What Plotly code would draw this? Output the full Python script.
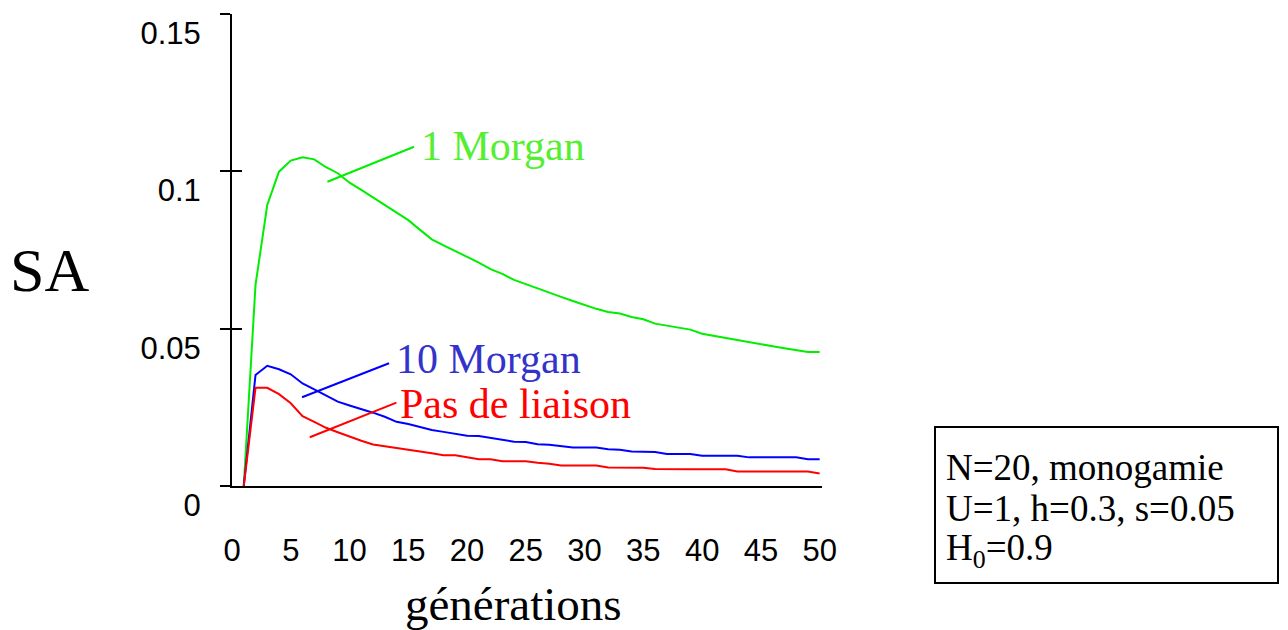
import plotly.graph_objects as go

generations = list(range(1, 51))

sa_1_morgan = [0.0, 0.0639, 0.0893, 0.0999, 0.1034, 0.1045, 0.1038, 0.1013, 0.0994, 0.0964,
               0.0941, 0.0917, 0.0894, 0.0869, 0.0845, 0.0814, 0.0784, 0.0765, 0.0747, 0.0729,
               0.0710, 0.0689, 0.0674, 0.0655, 0.0641, 0.0627, 0.0613, 0.0601, 0.0588, 0.0575,
               0.0563, 0.0553, 0.0548, 0.0537, 0.0530, 0.0516, 0.0509, 0.0504, 0.0497, 0.0484,
               0.0477, 0.0470, 0.0464, 0.0458, 0.0450, 0.0444, 0.0438, 0.0431, 0.0426, 0.0426]

sa_10_morgan = [0.0, 0.0353, 0.0382, 0.0371, 0.0355, 0.0326, 0.0307, 0.0287, 0.0268, 0.0256,
                0.0245, 0.0233, 0.0220, 0.0204, 0.0197, 0.0188, 0.0178, 0.0172, 0.0165, 0.0160,
                0.0159, 0.0153, 0.0146, 0.0141, 0.0140, 0.0133, 0.0131, 0.0127, 0.0122, 0.0122,
                0.0122, 0.0117, 0.0115, 0.0110, 0.0108, 0.0108, 0.0102, 0.0102, 0.0102, 0.0096,
                0.0096, 0.0096, 0.0096, 0.0091, 0.0091, 0.0091, 0.0091, 0.0091, 0.0085, 0.0085]

sa_pas_de_liaison = [0.0, 0.0312, 0.0312, 0.0292, 0.0263, 0.0222, 0.0204, 0.0185, 0.0171, 0.0157,
                     0.0144, 0.0132, 0.0127, 0.0122, 0.0117, 0.0110, 0.0104, 0.0098, 0.0098, 0.0091,
                     0.0085, 0.0085, 0.0079, 0.0079, 0.0079, 0.0074, 0.0071, 0.0065, 0.0065, 0.0065,
                     0.0065, 0.0059, 0.0058, 0.0058, 0.0058, 0.0054, 0.0053, 0.0053, 0.0053, 0.0053,
                     0.0053, 0.0053, 0.0046, 0.0046, 0.0046, 0.0046, 0.0046, 0.0046, 0.0046, 0.0040]

x_tick_vals = [0, 5, 10, 15, 20, 25, 30, 35, 40, 45, 50]
y_tick_vals = [0, 0.05, 0.1, 0.15]
y_tick_text = ["0", "0.05", "0.1", "0.15"]

series_names = ["1 Morgan", "10 Morgan", "Pas de liaison"]
line_colors = ["#00ee00", "#0000ff", "#ff0000"]
label_colors = ["#55ee33", "#3333cc", "#ff0000"]
# label text anchor (data coords) and leader line (data coords)
label_pos = [(15.89, 0.1080), (13.76, 0.0405), (14.10, 0.0261)]
leader_start = [(8.12, 0.0967), (5.96, 0.0282), (6.62, 0.0155)]
leader_end = [(15.49, 0.1078), (13.36, 0.0390), (13.99, 0.0265)]

box_lines = ["N=20, monogamie", "U=1, h=0.3, s=0.05", "H<sub>0</sub>=0.9"]

fig = go.Figure()
for name, ys, col in zip(series_names, [sa_1_morgan, sa_10_morgan, sa_pas_de_liaison], line_colors):
    fig.add_trace(go.Scatter(x=generations, y=ys, mode="lines", name=name,
                             line=dict(color=col, width=2), showlegend=False))
# dummy trace so the overlay axis (inside ticks) is drawn
fig.add_trace(go.Scatter(x=[None], y=[None], yaxis="y2", showlegend=False, hoverinfo="skip"))

serif = "Liberation Serif"
sans = "Liberation Sans"

W, H = 1288, 630
ml, mr, mt, mb = 232, 466, 14, 144

annotations = []
shapes = []
for name, (lx, ly), (sx, sy), (ex, ey), lc, tc in zip(series_names, label_pos, leader_start,
                                                      leader_end, line_colors, label_colors):
    annotations.append(dict(x=lx, y=ly, xref="x", yref="y", text=name, showarrow=False,
                            xanchor="left", yanchor="middle",
                            font=dict(family=serif, size=42, color=tc)))
    shapes.append(dict(type="line", xref="x", yref="y", x0=sx, y0=sy, x1=ex, y1=ey,
                       line=dict(color=lc, width=2)))

pw = W - ml - mr
ph = H - mt - mb
def px2paper(px, py):
    return (px - ml) / pw, (H - mb - py) / ph

annotations.append(dict(x=px2paper(49, 0)[0], y=px2paper(0, 270)[1], xref="paper", yref="paper",
                        text="SA", showarrow=False, xanchor="center", yanchor="middle",
                        font=dict(family=serif, size=62, color="black")))
annotations.append(dict(x=px2paper(513, 0)[0], y=px2paper(0, 604)[1], xref="paper", yref="paper",
                        text="générations", showarrow=False, xanchor="center", yanchor="middle",
                        font=dict(family=serif, size=47, color="black")))

bx0, by0 = px2paper(935, 583)
bx1, by1 = px2paper(1278, 427)
shapes.append(dict(type="rect", xref="paper", yref="paper", x0=bx0, y0=by0, x1=bx1, y1=by1,
                   line=dict(color="black", width=2), fillcolor="white"))
for i, t in enumerate(box_lines):
    tx, ty = px2paper(944, 467 + 41.5 * i)
    annotations.append(dict(x=tx, y=ty, xref="paper", yref="paper", text=t, showarrow=False,
                            xanchor="left", yanchor="middle",
                            font=dict(family=serif, size=37, color="black")))

fig.update_layout(
    width=W, height=H,
    margin=dict(l=ml, r=mr, t=mt, b=mb),
    paper_bgcolor="white", plot_bgcolor="white",
    xaxis=dict(range=[0, 50.2], tickvals=x_tick_vals, showgrid=False, zeroline=False,
               showline=True, linecolor="black", linewidth=2, ticks="",
               ticklabelstandoff=36,
               tickfont=dict(family=sans, size=31, color="black")),
    yaxis=dict(range=[0, 0.15], tickvals=y_tick_vals, ticktext=y_tick_text, showgrid=False,
               zeroline=False, showline=True, linecolor="black", linewidth=2,
               ticks="outside", ticklen=10, tickwidth=2, tickcolor="black",
               ticklabelshift=19, ticklabelstandoff=13, ticklabeloverflow="allow",
               tickfont=dict(family=sans, size=31, color="black")),
    yaxis2=dict(range=[0, 0.15], overlaying="y", side="left", tickvals=y_tick_vals,
                showticklabels=False, showgrid=False, zeroline=False, showline=False,
                ticks="inside", ticklen=10, tickwidth=2, tickcolor="black"),
    annotations=annotations,
    shapes=shapes,
)

fig.write_html("out.html")
